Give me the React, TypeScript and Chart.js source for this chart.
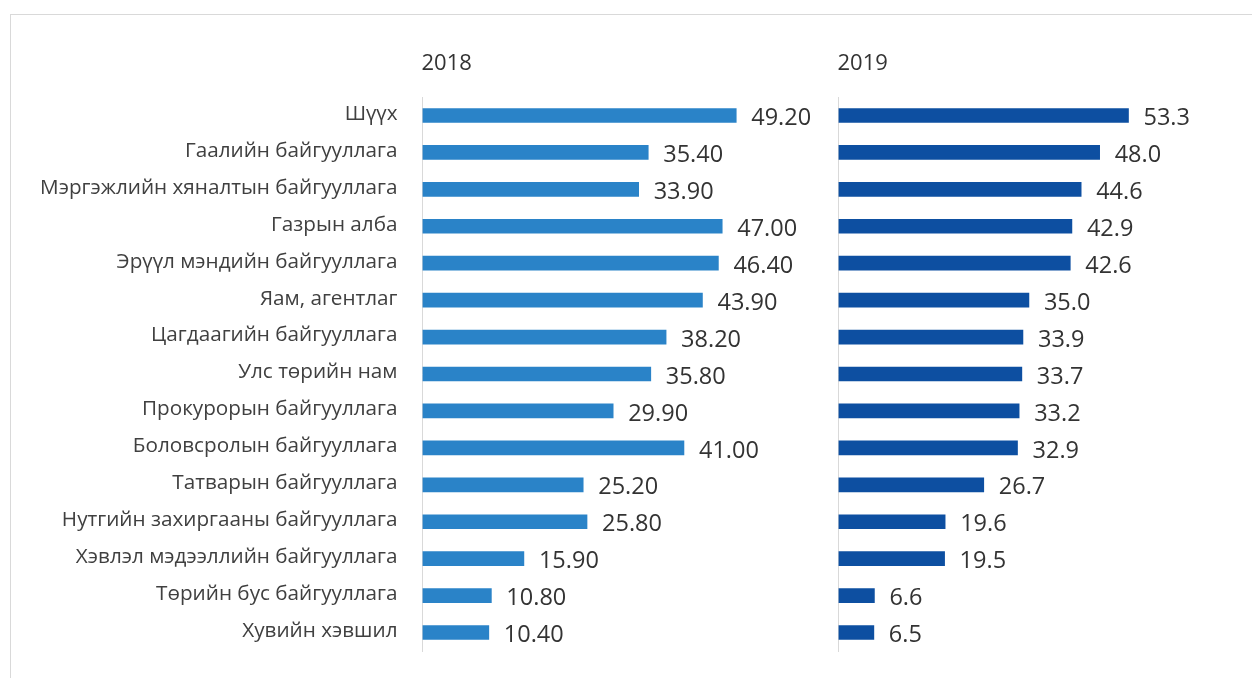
import React, { useEffect, useRef } from 'react';
import { Chart, registerables } from 'chart.js';

Chart.register(...registerables);

const categories = [
  'Шүүх',
  'Гаалийн байгууллага',
  'Мэргэжлийн хяналтын байгууллага',
  'Газрын алба',
  'Эрүүл мэндийн байгууллага',
  'Яам, агентлаг',
  'Цагдаагийн байгууллага',
  'Улс төрийн нам',
  'Прокурорын байгууллага',
  'Боловсролын байгууллага',
  'Татварын байгууллага',
  'Нутгийн захиргааны байгууллага',
  'Хэвлэл мэдээллийн байгууллага',
  'Төрийн бус байгууллага',
  'Хувийн хэвшил',
];

const values2018 = [49.2, 35.4, 33.9, 47.0, 46.4, 43.9, 38.2, 35.8, 29.9, 41.0, 25.2, 25.8, 15.9, 10.8, 10.4];
const values2019 = [53.3, 48.0, 44.6, 42.9, 42.6, 35.0, 33.9, 33.7, 33.2, 32.9, 26.7, 19.6, 19.5, 6.6, 6.5];

const panelTitles = ['2018', '2019'];
const decimals = [2, 1];

const FONT = "'Open Sans', 'Noto Sans', sans-serif";

function labelsPlugin(title: string, dec: number) {
  return {
    id: 'valueLabels' + title,
    afterDatasetsDraw(chart: any) {
      const ctx = chart.ctx;
      const meta = chart.getDatasetMeta(0);
      const data = chart.data.datasets[0].data as number[];
      ctx.save();
      ctx.font = `23.5px ${FONT}`;
      ctx.fillStyle = '#333333';
      ctx.textAlign = 'left';
      ctx.textBaseline = 'middle';
      meta.data.forEach((bar: any, i: number) => {
        ctx.fillText(Number(data[i]).toFixed(dec), bar.x + 15, bar.y + 3);
      });
      ctx.font = `22px ${FONT}`;
      ctx.textBaseline = 'alphabetic';
      ctx.fillText(title, chart.chartArea.left - 1, 70);
      ctx.restore();
    },
  };
}

function makeConfig(values: number[], color: string, max: number, showLabels: boolean, axisWidth: number, title: string, dec: number): any {
  return {
    type: 'bar',
    data: {
      labels: categories,
      datasets: [
        {
          data: values,
          backgroundColor: color,
          borderWidth: 0,
          barThickness: 14,
        },
      ],
    },
    options: {
      indexAxis: 'y',
      animation: false,
      responsive: false,
      maintainAspectRatio: false,
      layout: { padding: { top: 97, bottom: 27, left: 0, right: 0 } },
      plugins: {
        legend: { display: false },
        tooltip: { enabled: false },
        title: { display: false },
      },
      scales: {
        x: { display: false, min: 0, max },
        y: {
          grid: { display: false, drawTicks: false },
          border: { display: true, color: '#d9d9d9', width: 1 },
          ticks: {
            display: showLabels,
            font: { family: FONT, size: 20.7 },
            color: '#404040',
            padding: 25,
            labelOffset: -1.5,
          },
          afterFit: (s: any) => {
            s.width = axisWidth;
            s.paddingTop = 0;
            s.paddingBottom = 0;
          },
        },
      },
    },
    plugins: [labelsPlugin(title, dec)],
  };
}

export default function App() {
  const leftRef = useRef<HTMLCanvasElement>(null);
  const rightRef = useRef<HTMLCanvasElement>(null);

  useEffect(() => {
    const c1 = new Chart(leftRef.current!, makeConfig(values2018, '#2A83C8', 65, true, 422.5, panelTitles[0], decimals[0]));
    const c2 = new Chart(rightRef.current!, makeConfig(values2019, '#0D4FA1', 76, false, 1.5, panelTitles[1], decimals[1]));
    return () => {
      c1.destroy();
      c2.destroy();
    };
  }, []);

  return (
    <div style={{ position: 'absolute', left: 0, top: 0, width: 1252, height: 678, background: '#fff', overflow: 'hidden' }}>
      <div
        style={{
          position: 'absolute',
          left: 10,
          top: 14,
          width: 1242,
          height: 664,
          borderTop: '1px solid #d9d9d9',
          borderLeft: '1px solid #d9d9d9',
          boxSizing: 'border-box',
        }}
      />
      <canvas ref={leftRef} width={837} height={678} style={{ position: 'absolute', left: 0, top: 0, width: 837, height: 678 }} />
      <canvas ref={rightRef} width={415} height={678} style={{ position: 'absolute', left: 837, top: 0, width: 415, height: 678 }} />
    </div>
  );
}
